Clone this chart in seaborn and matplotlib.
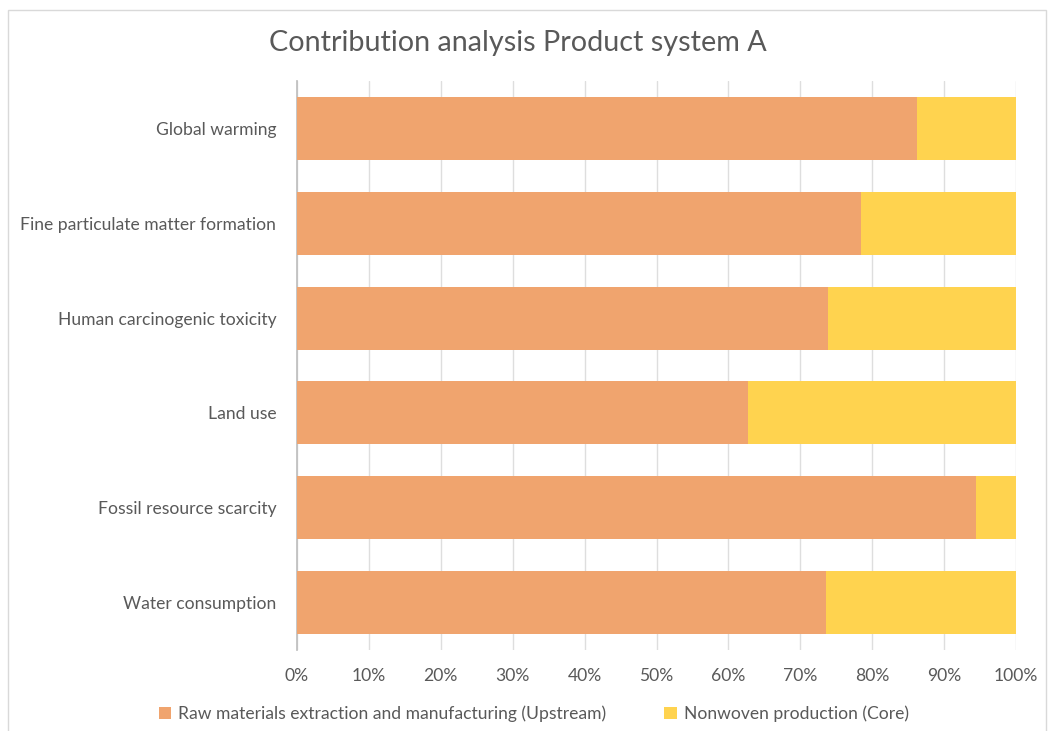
import matplotlib
matplotlib.use("Agg")
import matplotlib.pyplot as plt
import seaborn as sns
import pandas as pd
from matplotlib.patches import Rectangle, Patch
from matplotlib.ticker import PercentFormatter

categories = ["Global warming", "Fine particulate matter formation", "Human carcinogenic toxicity",
              "Land use", "Fossil resource scarcity", "Water consumption"]
upstream = [0.862, 0.785, 0.739, 0.627, 0.944, 0.736]
core = [0.138, 0.215, 0.261, 0.373, 0.056, 0.264]
series_names = ["Raw materials extraction and manufacturing (Upstream)", "Nonwoven production (Core)"]
x_ticks = [0, 0.1, 0.2, 0.3, 0.4, 0.5, 0.6, 0.7, 0.8, 0.9, 1.0]

c_up = "#F0A46E"
c_core = "#FFD34F"
txt = "#595959"

sns.set_theme(style="white")
plt.rcParams["font.family"] = ["Lato", "DejaVu Sans"]

df = pd.DataFrame({"cat": categories, "up": upstream,
                   "total": [u + c for u, c in zip(upstream, core)]})

fig = plt.figure(figsize=(10.51, 7.31), dpi=100)
ax = fig.add_axes([297/1051, 1-650/731, (1016-297)/1051, (650-81)/731])

sns.barplot(data=df, x="total", y="cat", color=c_core, saturation=1, width=0.665, ax=ax,
            orient="h", zorder=2, linewidth=0)
sns.barplot(data=df, x="up", y="cat", color=c_up, saturation=1, width=0.665, ax=ax,
            orient="h", zorder=3, linewidth=0)

ax.set_xlim(0, 1.0)
ax.set_ylim(5.5, -0.5)
ax.set_xticks(x_ticks)
ax.xaxis.set_major_formatter(PercentFormatter(1.0, decimals=0))
ax.set_xlabel("")
ax.set_ylabel("")
ax.grid(axis="x", color="#DEDEDE", linewidth=1, zorder=0)
ax.set_axisbelow(True)
for s in ["top", "right", "bottom"]:
    ax.spines[s].set_visible(False)
ax.spines["left"].set_color("#BFBFBF")
ax.tick_params(axis="y", length=0, pad=15, labelsize=12.6, labelcolor=txt)
ax.tick_params(axis="x", length=0, pad=13, labelsize=12.6, labelcolor=txt)

fig.text(0.493, 1-43/731, "Contribution analysis Product system A", ha="center", va="center",
         fontsize=20.7, color=txt)

handles = [Patch(facecolor=c_up, edgecolor="none"), Patch(facecolor=c_core, edgecolor="none")]
fig.legend(handles, series_names, loc="center", bbox_to_anchor=(0.508, 1-714/731), ncol=2,
           frameon=False, fontsize=12.6, labelcolor=txt, handlelength=0.7, handleheight=0.7,
           handletextpad=0.4, columnspacing=3.3)

fig.patches.append(Rectangle((8/1051, -0.01), 1038/1051, 1-10/731 + 0.01, transform=fig.transFigure,
                             fill=False, edgecolor="#D9D9D9", linewidth=1))

fig.savefig("out.png", dpi=100)
